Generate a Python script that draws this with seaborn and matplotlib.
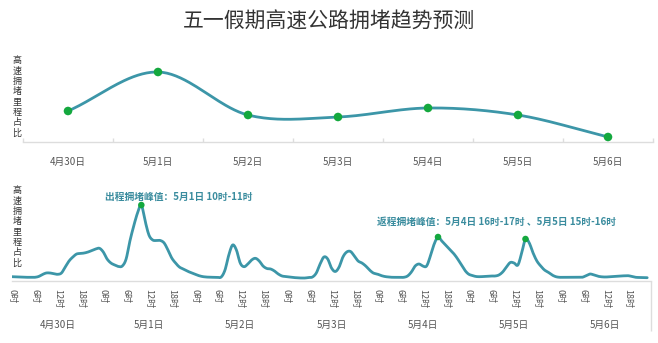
import numpy as np
import pandas as pd
import matplotlib
matplotlib.use("Agg")
import matplotlib.pyplot as plt
import matplotlib.transforms as mtransforms
import seaborn as sns

# ---------------- data ----------------
title = "五一假期高速公路拥堵趋势预测"
ylabel = "高速拥堵里程占比"
days = ["4月30日", "5月1日", "5月2日", "5月3日", "5月4日", "5月5日", "5月6日"]
daily_share = [31, 70, 27, 25, 34, 27, 5]

hour_labels = ["0时", "6时", "12时", "18时"]
hourly_share = [
    # 4/30
    4.3, 4.2, 4.0, 3.8, 3.7, 3.7, 3.7, 4.5, 6.5, 8.0, 8.0, 7.3,
    6.7, 8.0, 14.0, 20.0, 24.0, 27.0, 27.5, 28.0, 29.0, 30.5, 32.0, 32.7,
    # 5/1
    29.0, 22.0, 18.0, 16.0, 14.5, 15.0, 22.0, 40.0, 55.0, 68.0, 76.0, 60.0,
    46.0, 41.0, 40.5, 40.5, 38.0, 31.0, 23.0, 18.0, 14.0, 12.0, 10.0, 8.5,
    # 5/2
    7.0, 5.5, 4.5, 4.0, 3.8, 3.7, 3.7, 4.0, 11.0, 26.0, 36.0, 31.0,
    18.0, 14.3, 17.0, 21.0, 22.7, 20.0, 15.0, 12.5, 12.0, 10.0, 7.0, 5.0,
    # 5/3
    4.5, 4.0, 3.5, 3.2, 3.0, 3.0, 3.5, 4.0, 8.0, 17.0, 24.0, 22.0,
    13.0, 9.5, 14.0, 24.0, 29.0, 29.5, 25.0, 20.0, 18.0, 15.0, 11.0, 8.0,
    # 5/4
    7.0, 5.5, 4.5, 4.0, 3.7, 3.7, 3.7, 3.7, 5.0, 9.0, 15.0, 17.0,
    15.0, 15.0, 25.0, 37.0, 44.0, 40.0, 36.0, 32.0, 28.0, 23.0, 17.0, 11.0,
    # 5/5
    7.0, 5.5, 4.5, 4.3, 4.5, 4.8, 5.0, 5.0, 6.0, 9.0, 14.0, 18.5,
    18.0, 16.0, 28.0, 42.0, 38.0, 28.0, 20.0, 15.0, 11.0, 8.7, 6.0, 4.3,
    # 5/6
    3.7, 3.7, 3.7, 3.7, 3.7, 3.7, 3.8, 5.5, 7.0, 6.0, 4.8, 4.2,
    4.0, 4.2, 4.5, 4.7, 5.0, 5.2, 5.3, 4.5, 3.7, 3.5, 3.3, 3.3,
]
out_note = "出程拥堵峰值：5月1日 10时-11时"
ret_note = "返程拥堵峰值：5月4日 16时-17时 、5月5日 15时-16时"

# ---------------- style ----------------
LINE = "#3c96a8"
DOT = "#14a83e"
NOTE = "#3a8c9e"
GRID = "#dddddd"
TXT = "#555555"

sns.set_theme(style="white")
plt.rcParams["font.family"] = ["Noto Sans CJK SC", "DejaVu Sans"]


def smooth(x, y, n=16):
    """Catmull-Rom rendering of a series (curve passes through every point)."""
    x = np.asarray(x, float)
    y = np.asarray(y, float)
    xs, ys = [], []
    t = np.linspace(0, 1, n, endpoint=False)
    h00 = 2 * t**3 - 3 * t**2 + 1
    h10 = t**3 - 2 * t**2 + t
    h01 = -2 * t**3 + 3 * t**2
    h11 = t**3 - t**2
    N = len(y)
    for i in range(N - 1):
        m1 = (y[i + 1] - y[i - 1]) / 2 if i > 0 else (y[i + 1] - y[i])
        m2 = (y[i + 2] - y[i]) / 2 if i + 2 < N else (y[i + 1] - y[i])
        xs.append(x[i] + t * (x[i + 1] - x[i]))
        ys.append(h00 * y[i] + h10 * m1 + h01 * y[i + 1] + h11 * m2)
    xs.append([x[-1]])
    ys.append([y[-1]])
    return np.concatenate(xs), np.concatenate(ys)


W, H = 658, 343
fig = plt.figure(figsize=(W / 100, H / 100), dpi=100)


def rect(l, t, r, b):
    return [l / W, 1 - b / H, (r - l) / W, (b - t) / H]


fig.text(0.5, 1 - 22 / H, title, ha="center", va="center", fontsize=15, color="#333333")

# ---------------- top chart ----------------
ax1 = fig.add_axes(rect(23, 55, 653, 142))
df1 = pd.DataFrame({"day": days, "pos": np.arange(len(days)), "share": daily_share})
sx, sy = smooth(df1["pos"], df1["share"], n=40)
sns.lineplot(x=sx, y=sy, ax=ax1, color=LINE, lw=2.0, sort=False)
sns.scatterplot(data=df1, x="pos", y="share", ax=ax1, color=DOT, s=38, edgecolor="none", zorder=5)
ax1.set_xlim(-0.5, len(days) - 0.5)
ax1.set_ylim(0, 87)
ax1.set_xticks(df1["pos"])
ax1.set_xticklabels(days, fontsize=7, color=TXT)
ax1.set_xticks(np.arange(len(days) + 1) - 0.5, minor=True)
ax1.tick_params(axis="x", which="both", bottom=True)
ax1.tick_params(axis="x", which="major", length=0, pad=11)
ax1.tick_params(axis="x", which="minor", length=3, direction="in", color=GRID, width=1)
ax1.set_yticks([])
ax1.set_xlabel("")
ax1.set_ylabel("")
for s in ["top", "left", "right"]:
    ax1.spines[s].set_visible(False)
ax1.spines["bottom"].set_color(GRID)
ax1.spines["bottom"].set_linewidth(1)
fig.text(17 / W, 1 - 97 / H, "\n".join(ylabel), ha="center", va="center",
         fontsize=6.5, color="#333333", linespacing=1.2)

# ---------------- bottom chart ----------------
ax2 = fig.add_axes(rect(12, 185, 651, 281))
hours = np.arange(len(hourly_share))
df2 = pd.DataFrame({"hour": hours, "share": hourly_share})
hx, hy = smooth(df2["hour"], df2["share"], n=10)
sns.lineplot(x=hx, y=hy, ax=ax2, color=LINE, lw=2.0, sort=False)

peaks = []
for d in (1, 4, 5):
    seg = df2.iloc[d * 24:(d + 1) * 24]
    peaks.append(seg.loc[seg["share"].idxmax()])
dfp = pd.DataFrame(peaks)
sns.scatterplot(data=dfp, x="hour", y="share", ax=ax2, color=DOT, s=22, edgecolor="none", zorder=5)

ax2.set_xlim(0, 24 * len(days))
ax2.set_ylim(0, 96)
ticks = [d * 24 + h for d in range(len(days)) for h in (0, 6, 12, 18)]
ax2.set_xticks(ticks)
ax2.set_xticklabels(hour_labels * len(days), rotation=-90, fontsize=6.5, color=TXT)
ax2.set_xticks(np.arange(len(days) + 1) * 24, minor=True)
ax2.tick_params(axis="x", which="both", bottom=True)
ax2.tick_params(axis="x", which="major", length=0, pad=6)
ax2.tick_params(axis="x", which="minor", length=36, direction="out", color=GRID, width=1)
ax2.set_yticks([])
ax2.set_xlabel("")
ax2.set_ylabel("")
for s in ["top", "left", "right"]:
    ax2.spines[s].set_visible(False)
ax2.spines["bottom"].set_color(GRID)
ax2.spines["bottom"].set_linewidth(1)

trans = mtransforms.blended_transform_factory(ax2.transData, ax2.transAxes)
for i, d in enumerate(days):
    ax2.text(i * 24 + 12, (281 - 325) / 96, d, transform=trans, ha="center", va="center",
             fontsize=7, color=TXT)

ax2.annotate(out_note, xy=(peaks[0]["hour"], peaks[0]["share"]), xytext=(26.6, 5.8),
             textcoords="offset points", ha="center", va="center", fontsize=7,
             fontweight="bold", color=NOTE)
ax2.annotate(ret_note, xy=(peaks[1]["hour"], peaks[1]["share"]), xytext=(42, 10.6),
             textcoords="offset points", ha="center", va="center", fontsize=7,
             fontweight="bold", color=NOTE)

fig.text(17 / W, 1 - 227 / H, "\n".join(ylabel), ha="center", va="center",
         fontsize=6.5, color="#333333", linespacing=1.2)

fig.savefig("out.png", dpi=100)
